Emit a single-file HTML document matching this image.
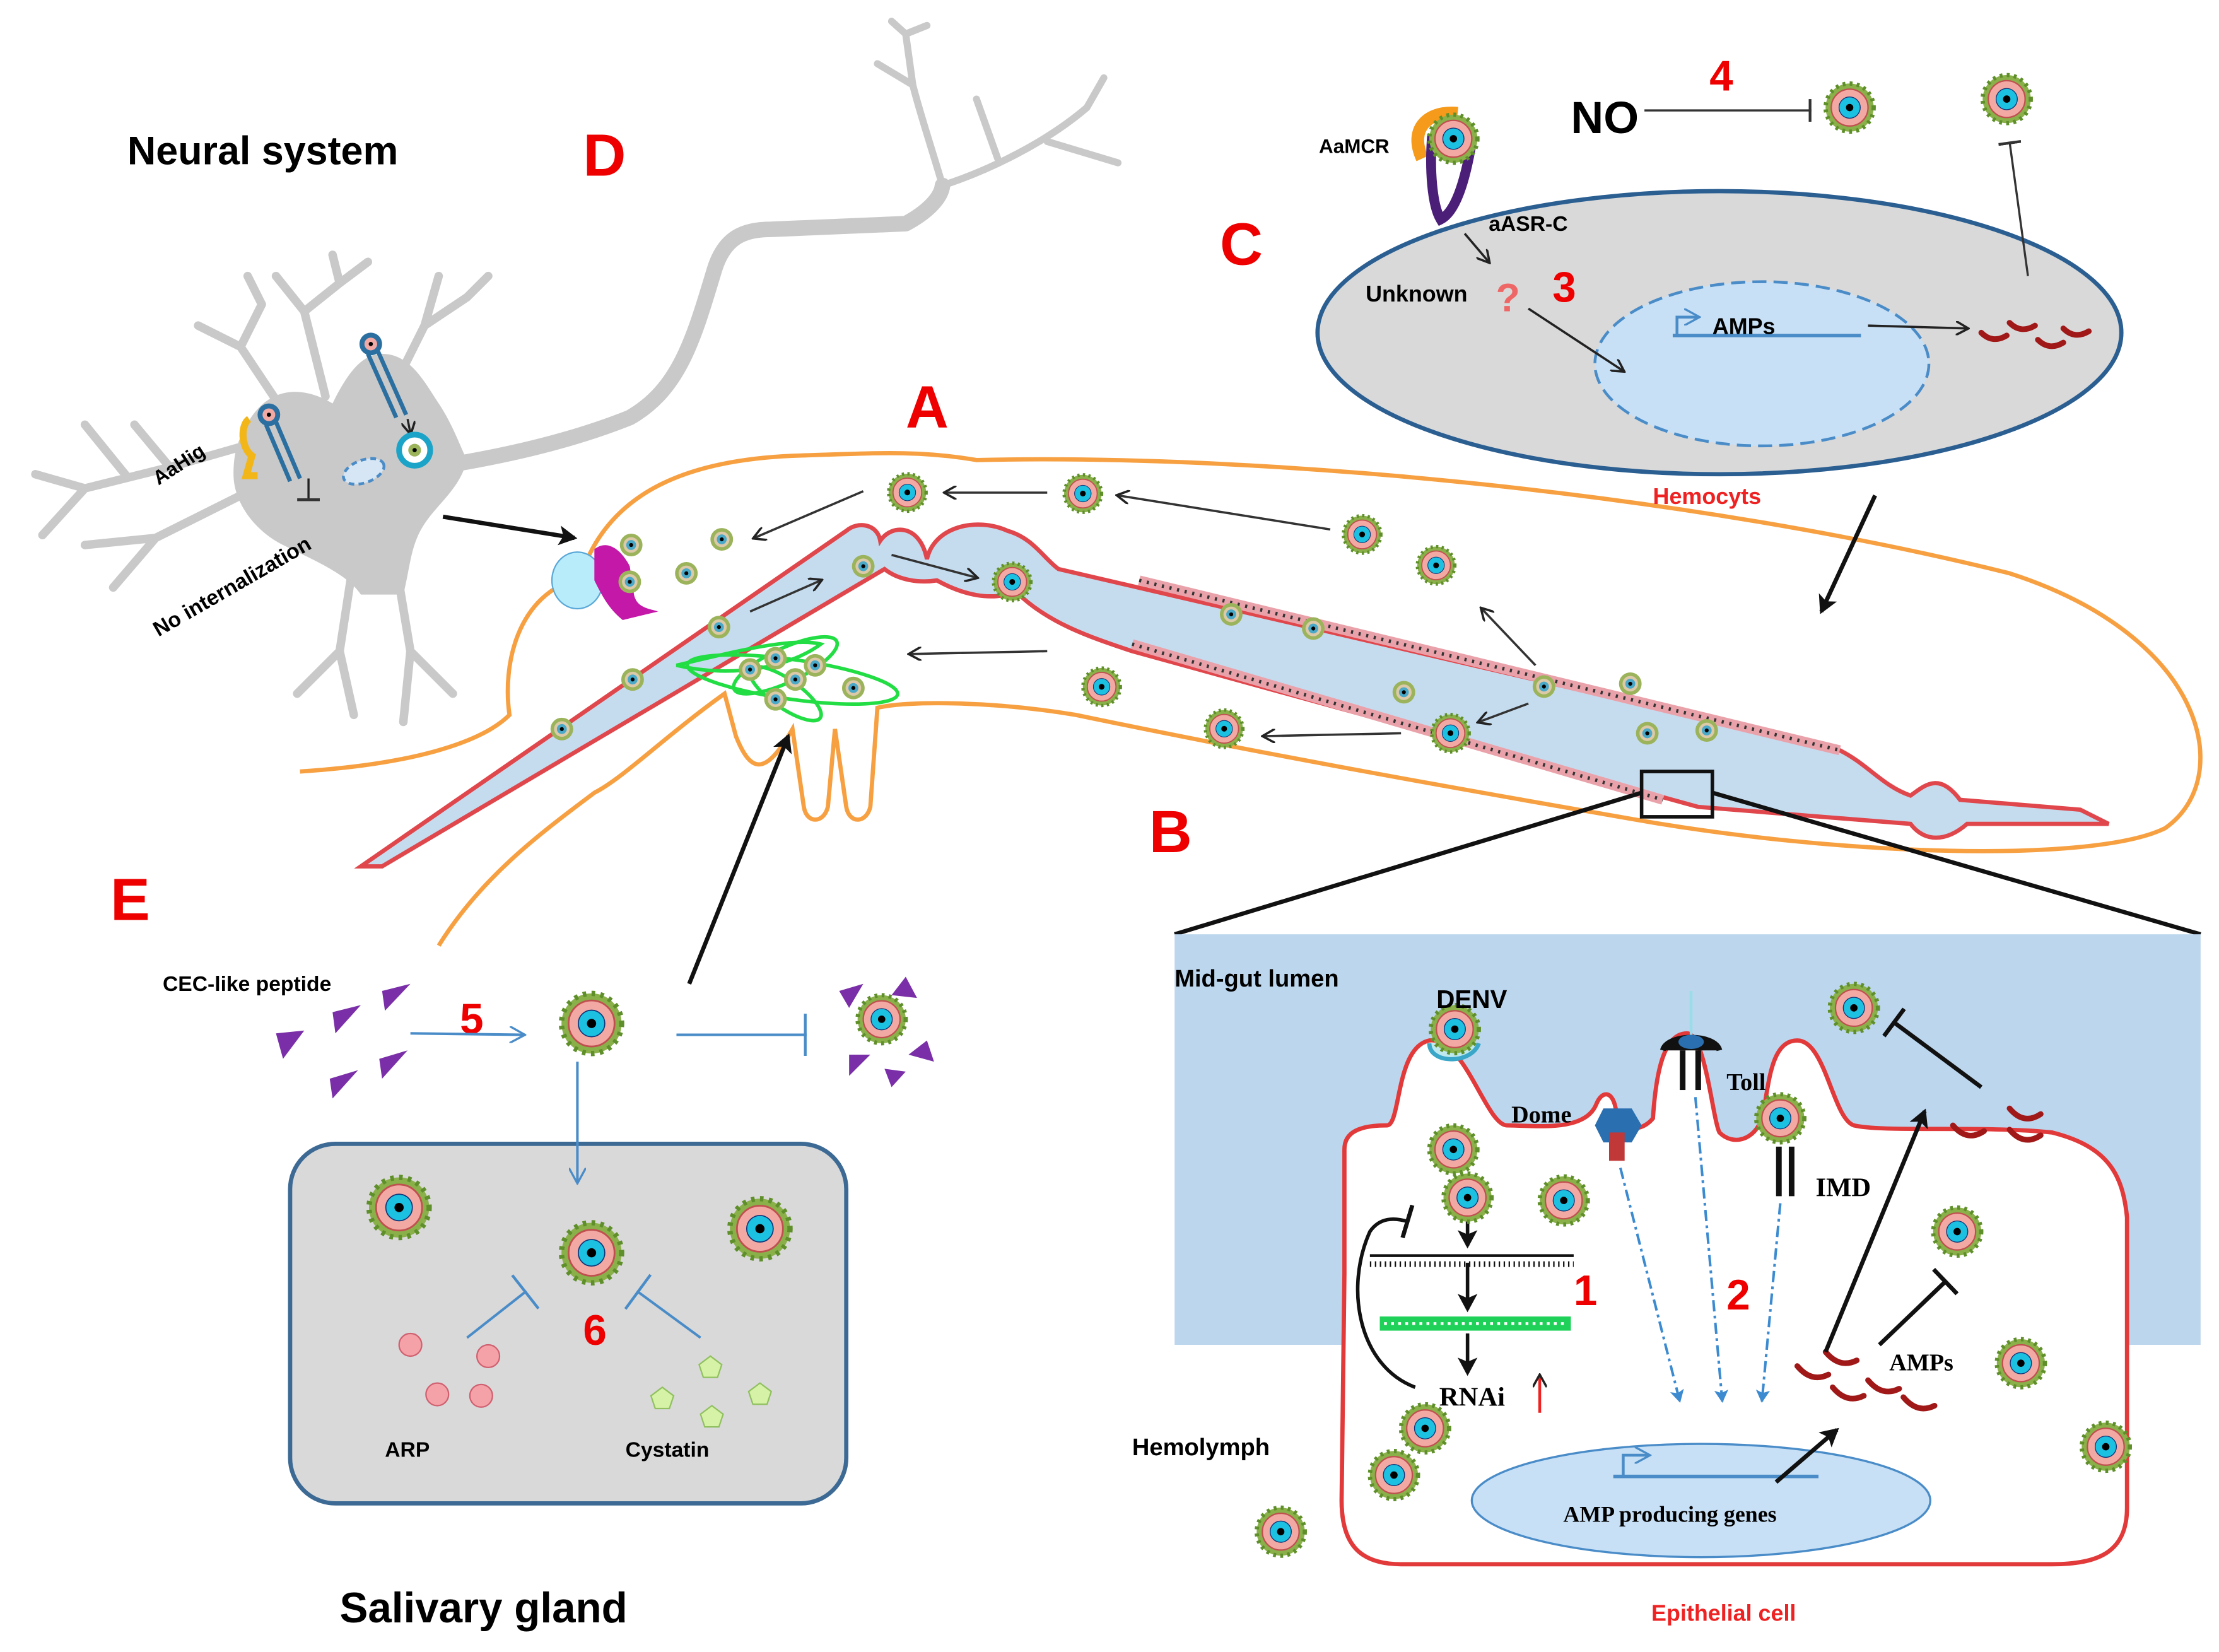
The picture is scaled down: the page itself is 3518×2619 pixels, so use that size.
<!DOCTYPE html>
<html><head><meta charset="utf-8"><style>
html,body{margin:0;padding:0;background:#fff;}
svg{display:block;}
text{font-family:"Liberation Sans",sans-serif;}
</style></head><body>
<svg width="3518" height="2619" viewBox="0 0 1568 1167" preserveAspectRatio="none" xmlns="http://www.w3.org/2000/svg">
<defs>
<g id="v">
<circle r="17" fill="#8ab04a"/>
<circle r="17" fill="none" stroke="#5f8f2a" stroke-width="3" stroke-dasharray="2 3"/>
<circle r="13" fill="#f2a9a4" stroke="#c05050" stroke-width="1"/>
<circle r="7.5" fill="#1cc0e0" stroke="#137" stroke-width="0.6"/>
<circle r="2.6" fill="#000"/>
</g>
<g id="s">
<circle r="8" fill="#9bb35a"/>
<circle r="5.5" fill="#dcc9a8"/>
<circle r="3.5" fill="#4aa9c8"/>
<circle r="1.4" fill="#000"/>
</g>
<marker id="ah" markerWidth="10" markerHeight="10" refX="8" refY="5" orient="auto" markerUnits="userSpaceOnUse"><path d="M0,0 L9,5 L0,10" fill="none" stroke="#222" stroke-width="1.6"/></marker>
<marker id="ahb" markerWidth="14" markerHeight="14" refX="11" refY="7" orient="auto" markerUnits="userSpaceOnUse"><path d="M0,0 L13,7 L0,14 L3,7z" fill="#111"/></marker>
<marker id="ahl" markerWidth="12" markerHeight="12" refX="10" refY="6" orient="auto" markerUnits="userSpaceOnUse"><path d="M0,0 L11,6 L0,12" fill="none" stroke="#4a8cc8" stroke-width="1.5"/></marker>
<marker id="ahd" markerWidth="10" markerHeight="10" refX="8" refY="5" orient="auto" markerUnits="userSpaceOnUse"><path d="M0,0 L9,5 L0,10 L2,5z" fill="#3c8ad0"/></marker>
<marker id="tb" markerWidth="4" markerHeight="24" refX="2" refY="12" orient="auto" markerUnits="userSpaceOnUse"><rect x="0" y="0" width="3" height="24" fill="#111"/></marker>
<marker id="tbl" markerWidth="4" markerHeight="30" refX="2" refY="15" orient="auto" markerUnits="userSpaceOnUse"><rect x="0" y="0" width="2" height="30" fill="#4a8cc8"/></marker>
<marker id="tbs" markerWidth="4" markerHeight="16" refX="2" refY="8" orient="auto" markerUnits="userSpaceOnUse"><rect x="0" y="0" width="2" height="16" fill="#333"/></marker>
</defs>

<!-- Neuron -->
<g fill="none" stroke="#c9c9c9" stroke-linecap="round" stroke-linejoin="round">
<path d="M320,328 C380,318 420,305 445,295 C480,275 490,240 505,190 C512,168 525,162 545,162 L640,158 C655,150 665,140 666,131" stroke-width="11"/>
<path d="M666,131 C660,110 650,80 645,60 L640,24 M645,60 L620,45 M666,131 C700,120 740,100 768,76 M740,100 L790,115 M705,112 L690,70 M768,76 L780,55 M640,24 L630,15 M640,24 L655,18" stroke-width="5"/>
<path d="M190,310 L120,330 L60,345 L25,335 M60,345 L30,378 M120,330 L95,300 M90,337 L60,300 M180,345 L110,380 L80,415 M110,380 L60,385 M200,290 L170,245 L140,230 M170,245 L185,215 L175,195 M230,280 L215,220 L195,195 M215,220 L240,200 L235,180 M240,200 L260,185 M280,270 L300,230 L330,210 M300,230 L310,195 M330,210 L345,195 M250,395 L240,460 L210,490 M240,460 L250,505 M280,400 L290,460 L320,490 M290,460 L285,510" stroke-width="6"/>
</g>
<path d="M172,305 C185,275 210,270 235,285 C245,265 255,250 270,250 C290,250 300,270 310,285 C320,300 325,315 330,325 C325,345 310,355 300,370 C290,385 290,400 285,420 L255,420 C245,405 220,395 200,385 C180,375 165,355 165,335 C165,320 168,312 172,305z" fill="#c9c9c9"/>
<!-- receptors in neuron -->
<path d="M176,296 C170,300 170,316 178,322 L174,336 L182,336" fill="none" stroke="#f2b619" stroke-width="5"/>
<line x1="188" y1="300" x2="205" y2="340" stroke="#2a6fa0" stroke-width="3"/><line x1="195" y1="298" x2="212" y2="338" stroke="#2a6fa0" stroke-width="3"/>
<circle cx="190" cy="293" r="8" fill="#2a6fa0"/><circle cx="190" cy="293" r="4.5" fill="#f2a9a4"/><circle cx="190" cy="293" r="1.5" fill="#000"/>
<line x1="218" y1="338" x2="218" y2="354" stroke="#222" stroke-width="1.5" marker-end="url(#tbs)"/>
<line x1="260" y1="250" x2="280" y2="295" stroke="#2a6fa0" stroke-width="3"/><line x1="267" y1="248" x2="287" y2="293" stroke="#2a6fa0" stroke-width="3"/>
<circle cx="262" cy="243" r="8" fill="#2a6fa0"/><circle cx="262" cy="243" r="4.5" fill="#f2a9a4"/><circle cx="262" cy="243" r="1.5" fill="#000"/>
<line x1="288" y1="296" x2="290" y2="306" stroke="#222" stroke-width="1.5" marker-end="url(#ah)"/>
<circle cx="293" cy="318" r="11" fill="#fff" stroke="#1ba3c8" stroke-width="4"/><circle cx="293" cy="318" r="4.5" fill="#9bb35a"/><circle cx="293" cy="318" r="1.5" fill="#000"/>
<ellipse cx="257" cy="333" rx="15" ry="8" fill="#d7e6f4" stroke="#4a8cc8" stroke-width="2" stroke-dasharray="4 3" transform="rotate(-20 257 333)"/>
<text x="112" y="343" font-size="14" font-weight="bold" transform="rotate(-33 112 343)">AaHig</text>
<text x="112" y="450" font-size="15" font-weight="bold" transform="rotate(-30 112 450)">No internalization</text>
<text x="90" y="116" font-size="28" font-weight="bold">Neural system</text>
<text x="412" y="124" font-size="42" font-weight="bold" fill="#e00">D</text>

<!-- Mosquito outline -->
<path d="M212,545 C290,540 340,525 360,505 C355,470 365,420 410,408 C430,345 490,325 560,322 C620,320 650,318 690,325 C900,320 1200,350 1420,405 C1560,450 1580,550 1530,585 C1480,610 1300,605 1150,578 C1000,552 880,530 760,505 C700,495 640,495 620,500 L615,570 C612,582 600,582 598,570 L590,515 L585,570 C582,582 570,582 568,570 L560,515 C540,550 530,545 520,520 L512,490 C470,520 440,550 420,560 C380,590 340,620 310,668" fill="none" stroke="#f7a042" stroke-width="3"/>
<text x="640" y="302" font-size="42" font-weight="bold" fill="#e00">A</text>
<text x="812" y="602" font-size="42" font-weight="bold" fill="#e00">B</text>

<!-- Gut -->
<path d="M255,612 L598,375 C606,368 620,370 622,382 C630,370 650,370 655,395 C660,372 690,365 712,375 C730,380 738,395 748,402 L1300,530 C1320,540 1330,555 1350,562 C1360,555 1370,545 1385,565 L1470,572 L1490,582 L1390,582 C1375,595 1360,595 1350,582 L1200,570 L800,460 C770,450 740,440 718,418 C700,425 680,420 662,410 C650,412 635,410 625,402 L270,612 z" fill="#c5dcef" stroke="#e0474c" stroke-width="3"/>
<path d="M805,410 L1300,530 M800,455 L1175,565" stroke="#eaa2aa" stroke-width="7" fill="none"/>
<path d="M805,410 L1300,530 M800,455 L1175,565" stroke="#333" stroke-width="2.5" fill="none" stroke-dasharray="1.5 4"/>

<!-- Salivary gland green -->
<g fill="none" stroke="#22dd44" stroke-width="2.5">
<path d="M478,470 C520,480 560,470 580,455 C560,450 520,460 478,470z"/>
<ellipse cx="560" cy="480" rx="75" ry="14" transform="rotate(8 560 480)"/>
<ellipse cx="555" cy="470" rx="40" ry="12" transform="rotate(-25 555 470)"/>
<ellipse cx="555" cy="490" rx="30" ry="10" transform="rotate(35 555 490)"/>
</g>
<!-- Head receptor -->
<ellipse cx="408" cy="410" rx="18" ry="20" fill="#b9ecfa" stroke="#5aa8d8" stroke-width="1"/>
<path d="M420,388 C430,380 440,390 445,400 L448,420 C450,430 460,430 465,432 L440,438 C430,430 425,420 420,410 z" fill="#c418a8"/>

<!-- small viruses -->
<g>
<use href="#s" x="446" y="385"/><use href="#s" x="445" y="411"/><use href="#s" x="485" y="405"/><use href="#s" x="510" y="381"/>
<use href="#s" x="610" y="400"/><use href="#s" x="508" y="443"/><use href="#s" x="447" y="480"/><use href="#s" x="397" y="515"/>
<use href="#s" x="548" y="465"/><use href="#s" x="562" y="480"/><use href="#s" x="576" y="470"/><use href="#s" x="603" y="486"/><use href="#s" x="530" y="473"/><use href="#s" x="548" y="494"/>
<use href="#s" x="870" y="434"/><use href="#s" x="928" y="444"/><use href="#s" x="992" y="489"/><use href="#s" x="1091" y="485"/><use href="#s" x="1152" y="483"/><use href="#s" x="1164" y="518"/><use href="#s" x="1206" y="516"/>
</g>
<g transform="scale(0.78)">
<use href="#v" x="822" y="446"/><use href="#v" x="981" y="447"/><use href="#v" x="1234" y="484"/><use href="#v" x="1301" y="512"/><use href="#v" x="917" y="527"/><use href="#v" x="998" y="622"/><use href="#v" x="1109" y="660"/><use href="#v" x="1314" y="664"/>
</g>
<!-- arrows inside mosquito -->
<g stroke="#333" stroke-width="1.6" fill="none" marker-end="url(#ah)">
<line x1="610" y1="347" x2="533" y2="380"/>
<line x1="740" y1="348" x2="668" y2="348"/>
<line x1="940" y1="374" x2="790" y2="350"/>
<line x1="740" y1="460" x2="643" y2="462"/>
<line x1="990" y1="518" x2="893" y2="520"/>
<line x1="1080" y1="497" x2="1045" y2="510"/>
<line x1="1085" y1="470" x2="1047" y2="430"/>
<line x1="530" y1="432" x2="580" y2="410"/>
<line x1="630" y1="392" x2="690" y2="408"/>
</g>
<line x1="313" y1="365" x2="406" y2="380" stroke="#111" stroke-width="3" marker-end="url(#ahb)"/>
<line x1="487" y1="695" x2="557" y2="520" stroke="#111" stroke-width="3" marker-end="url(#ahb)"/>
<line x1="1325" y1="350" x2="1287" y2="432" stroke="#111" stroke-width="3" marker-end="url(#ahb)"/>

<!-- Hemocyte C -->
<ellipse cx="1215" cy="235" rx="284" ry="100" fill="#d9d9d9" stroke="#2b5f92" stroke-width="3"/>
<ellipse cx="1245" cy="257" rx="118" ry="58" fill="#c7e0f6" stroke="#4a8cc8" stroke-width="2" stroke-dasharray="10 5"/>
<path d="M1185,237 L1185,224 L1200,224" fill="none" stroke="#4a8cc8" stroke-width="2" marker-end="url(#ahl)"/>
<line x1="1182" y1="237" x2="1315" y2="237" stroke="#4a8cc8" stroke-width="2.5"/>
<text x="1210" y="236" font-size="16" font-weight="bold">AMPs</text>
<line x1="1320" y1="230" x2="1390" y2="232" stroke="#222" stroke-width="1.6" marker-end="url(#ah)"/>
<line x1="1080" y1="218" x2="1147" y2="262" stroke="#222" stroke-width="1.6" marker-end="url(#ah)"/>
<line x1="1035" y1="165" x2="1052" y2="185" stroke="#222" stroke-width="1.6" marker-end="url(#ah)"/>
<g fill="none" stroke="#a01818" stroke-width="4" stroke-linecap="round">
<path d="M1400,235 q8,8 18,2"/><path d="M1420,228 q8,8 18,2"/><path d="M1440,240 q8,8 18,2"/><path d="M1458,232 q8,8 18,2"/>
</g>
<line x1="1433" y1="195" x2="1420" y2="100" stroke="#333" stroke-width="1.5" marker-end="url(#tbs)"/>
<use href="#v" x="1418" y="70"/>
<use href="#v" x="1307" y="76"/>
<line x1="1162" y1="78" x2="1280" y2="78" stroke="#333" stroke-width="1.5" marker-end="url(#tbs)"/>
<text x="1110" y="94" font-size="32" font-weight="bold">NO</text>
<text x="1208" y="64" font-size="30" font-weight="bold" fill="#e00">4</text>
<path d="M1005,112 C995,90 1010,78 1030,80" fill="none" stroke="#f59a1a" stroke-width="9"/>
<path d="M1012,95 C1010,120 1012,145 1018,155 C1028,150 1035,130 1040,100" fill="none" stroke="#4b1f78" stroke-width="7"/>
<use href="#v" x="1027" y="98"/>
<text x="932" y="108" font-size="14" font-weight="bold">AaMCR</text>
<text x="1052" y="163" font-size="15" font-weight="bold">aASR-C</text>
<text x="965" y="213" font-size="16" font-weight="bold">Unknown</text>
<text x="1057" y="220" font-size="28" font-weight="bold" fill="#e66">?</text>
<text x="1097" y="213" font-size="30" font-weight="bold" fill="#e00">3</text>
<text x="862" y="187" font-size="42" font-weight="bold" fill="#e00">C</text>
<text x="1168" y="356" font-size="16" font-weight="bold" fill="#e22">Hemocyts</text>

<!-- Zoom box and lumen -->
<rect x="1160" y="545" width="50" height="32" fill="none" stroke="#111" stroke-width="2.5"/>
<line x1="1160" y1="560" x2="830" y2="660" stroke="#111" stroke-width="3"/>
<line x1="1210" y1="560" x2="1555" y2="660" stroke="#111" stroke-width="3"/>
<rect x="830" y="660" width="725" height="290" fill="#bcd6ee"/>
<text x="830" y="697" font-size="17" font-weight="bold">Mid-gut lumen</text>
<text x="800" y="1028" font-size="17" font-weight="bold">Hemolymph</text>

<!-- Epithelial cell -->
<path d="M950,900 L950,812 C950,800 960,795 980,795 C990,795 986,740 1010,735 C1035,732 1050,795 1065,795 C1085,795 1120,800 1128,780 C1132,770 1140,770 1142,785 C1145,800 1160,800 1168,790 C1170,760 1175,730 1192,730 C1205,730 1210,790 1215,800 C1225,810 1240,805 1245,790 C1250,770 1250,735 1270,735 C1290,735 1295,790 1310,795 C1330,800 1400,795 1450,800 C1490,810 1500,830 1503,860 L1503,1065 C1503,1095 1485,1105 1450,1105 L990,1105 C960,1105 948,1090 948,1060 z" fill="#fff" stroke="#e23a3a" stroke-width="3"/>
<ellipse cx="1202" cy="1060" rx="162" ry="40" fill="#c7e0f6" stroke="#4a8cc8" stroke-width="1.5"/>
<path d="M1147,1043 L1147,1028 L1165,1028" fill="none" stroke="#4a8cc8" stroke-width="2" marker-end="url(#ahl)"/>
<line x1="1140" y1="1043" x2="1285" y2="1043" stroke="#4a8cc8" stroke-width="2.5"/>
<text x="1180" y="1075" font-size="16" font-weight="bold" text-anchor="middle" style="font-family:'Liberation Serif',serif">AMP producing genes</text>
<text x="1218" y="1145" font-size="16" font-weight="bold" fill="#e22" text-anchor="middle">Epithelial cell</text>
<!-- DENV -->
<path d="M1010,737 C1010,752 1040,752 1045,737" fill="#bde8f0" stroke="#3aa6c8" stroke-width="3"/>
<use href="#v" x="1028" y="727"/>
<text x="1015" y="712" font-size="18" font-weight="bold">DENV</text>
<!-- Dome -->
<path d="M1127,795 L1133,783 L1153,783 L1160,795 L1153,807 L1133,807z" fill="#2a6fb0"/>
<rect x="1137" y="800" width="11" height="20" fill="#c03838"/>
<text x="1068" y="793" font-size="17" font-weight="bold" style="font-family:'Liberation Serif',serif">Dome</text>
<!-- Toll -->
<line x1="1195" y1="700" x2="1195" y2="740" stroke="#9bdce8" stroke-width="2"/>
<path d="M1175,742 C1178,730 1212,730 1215,742" fill="#111" stroke="#111" stroke-width="4"/>
<ellipse cx="1195" cy="736" rx="9" ry="5" fill="#2a6fb0"/>
<rect x="1187" y="742" width="4" height="28" fill="#111"/><rect x="1198" y="742" width="4" height="28" fill="#111"/>
<text x="1220" y="770" font-size="17" font-weight="bold" style="font-family:'Liberation Serif',serif">Toll</text>
<!-- IMD -->
<rect x="1255" y="810" width="4" height="35" fill="#111"/><rect x="1264" y="810" width="4" height="35" fill="#111"/>
<text x="1283" y="845" font-size="19" font-weight="bold" style="font-family:'Liberation Serif',serif">IMD</text>
<!-- dashed arrows -->
<g stroke="#3c8ad0" stroke-width="1.8" fill="none" stroke-dasharray="8 3 2 3" marker-end="url(#ahd)">
<line x1="1145" y1="825" x2="1187" y2="990"/>
<line x1="1198" y1="775" x2="1217" y2="990"/>
<line x1="1258" y1="850" x2="1245" y2="990"/>
</g>
<!-- RNAi pathway -->
<g stroke="#111" stroke-width="2.5" fill="none" marker-end="url(#ahb)">
<line x1="1037" y1="852" x2="1037" y2="880"/>
<line x1="1037" y1="892" x2="1037" y2="925"/>
<line x1="1037" y1="942" x2="1037" y2="970"/>
</g>
<line x1="968" y1="887" x2="1112" y2="887" stroke="#111" stroke-width="2"/>
<line x1="968" y1="893" x2="1112" y2="893" stroke="#111" stroke-width="4" stroke-dasharray="1 2.5"/>
<rect x="975" y="930" width="135" height="10" fill="#1fd158"/>
<line x1="978" y1="935" x2="1108" y2="935" stroke="#fff" stroke-width="2" stroke-dasharray="2 3"/>
<path d="M1000,980 C960,965 950,910 968,870 C975,860 985,860 995,863" fill="none" stroke="#111" stroke-width="2.5" marker-end="url(#tb)"/>
<text x="1017" y="993" font-size="19" font-weight="bold" style="font-family:'Liberation Serif',serif">RNAi</text>
<line x1="1088" y1="998" x2="1088" y2="972" stroke="#e22" stroke-width="2" marker-end="url(#ah)"/>
<text x="1112" y="922" font-size="30" font-weight="bold" fill="#e00">1</text>
<text x="1220" y="925" font-size="30" font-weight="bold" fill="#e00">2</text>
<!-- AMPs -->
<g fill="none" stroke="#a01818" stroke-width="4" stroke-linecap="round">
<path d="M1270,965 q10,12 22,6"/><path d="M1290,955 q10,12 22,6"/><path d="M1295,980 q10,12 22,6"/><path d="M1320,975 q10,12 22,6"/><path d="M1345,987 q10,12 22,6"/>
<path d="M1380,795 q10,12 22,4"/><path d="M1420,783 q10,12 22,4"/><path d="M1420,798 q10,12 22,4"/>
</g>
<text x="1335" y="968" font-size="17" font-weight="bold" style="font-family:'Liberation Serif',serif">AMPs</text>
<line x1="1255" y1="1047" x2="1298" y2="1010" stroke="#111" stroke-width="3" marker-end="url(#ahb)"/>
<line x1="1290" y1="955" x2="1360" y2="785" stroke="#111" stroke-width="3" marker-end="url(#ahb)"/>
<line x1="1328" y1="950" x2="1375" y2="905" stroke="#111" stroke-width="3" marker-end="url(#tb)"/>
<line x1="1400" y1="768" x2="1338" y2="722" stroke="#111" stroke-width="3" marker-end="url(#tb)"/>
<use href="#v" x="1310" y="712"/><use href="#v" x="1027" y="812"/><use href="#v" x="1037" y="846"/><use href="#v" x="1105" y="848"/>
<use href="#v" x="1383" y="870"/><use href="#v" x="1428" y="963"/><use href="#v" x="1488" y="1022"/><use href="#v" x="1007" y="1009"/><use href="#v" x="985" y="1042"/><use href="#v" x="905" y="1082"/>
<use href="#v" x="1258" y="790"/>

<!-- Salivary gland box E -->
<text x="78" y="650" font-size="42" font-weight="bold" fill="#e00">E</text>
<text x="115" y="700" font-size="15" font-weight="bold">CEC-like peptide</text>
<g fill="#7a2fa8">
<path d="M270,700 L290,695 L272,714z"/><path d="M235,715 L255,710 L237,730z"/><path d="M195,730 L215,728 L200,748z"/><path d="M268,748 L288,742 L270,762z"/><path d="M233,762 L253,756 L235,776z"/>
</g>
<text x="325" y="730" font-size="30" font-weight="bold" fill="#e00">5</text>
<line x1="290" y1="730" x2="370" y2="731" stroke="#4a8cc8" stroke-width="1.8" marker-end="url(#ahl)"/>
<g transform="translate(418,723) scale(1.25)"><use href="#v"/></g>
<line x1="478" y1="731" x2="570" y2="731" stroke="#4a8cc8" stroke-width="1.8" marker-end="url(#tbl)"/>
<use href="#v" x="623" y="720"/>
<g fill="#7a2fa8"><path d="M593,700 L610,695 L600,712z"/><path d="M640,690 L648,705 L630,703z"/><path d="M655,735 L660,750 L642,745z"/><path d="M600,745 L615,745 L600,760z"/><path d="M625,755 L640,757 L630,768z"/></g>
<rect x="205" y="808" width="393" height="254" rx="32" fill="#d9d9d9" stroke="#3d6a94" stroke-width="3"/>
<line x1="408" y1="750" x2="408" y2="835" stroke="#4a8cc8" stroke-width="1.8" marker-end="url(#ahl)"/>
<g transform="translate(282,853) scale(1.25)"><use href="#v"/></g>
<g transform="translate(418,885) scale(1.25)"><use href="#v"/></g>
<g transform="translate(537,868) scale(1.25)"><use href="#v"/></g>
<line x1="330" y1="945" x2="372" y2="912" stroke="#4a8cc8" stroke-width="1.8" marker-end="url(#tbl)"/>
<line x1="495" y1="945" x2="450" y2="912" stroke="#4a8cc8" stroke-width="1.8" marker-end="url(#tbl)"/>
<text x="412" y="950" font-size="30" font-weight="bold" fill="#e00">6</text>
<g fill="#f4a2a8" stroke="#d06070" stroke-width="1"><circle cx="290" cy="950" r="8"/><circle cx="345" cy="958" r="8"/><circle cx="309" cy="985" r="8"/><circle cx="340" cy="986" r="8"/></g>
<g fill="#d6f2a6" stroke="#90c060" stroke-width="1"><path d="M502,958 l8,6 -3,9 -10,0 -3,-9z"/><path d="M468,980 l8,6 -3,9 -10,0 -3,-9z"/><path d="M537,977 l8,6 -3,9 -10,0 -3,-9z"/><path d="M503,993 l8,6 -3,9 -10,0 -3,-9z"/></g>
<text x="272" y="1029" font-size="15" font-weight="bold">ARP</text>
<text x="442" y="1029" font-size="15" font-weight="bold">Cystatin</text>
<text x="240" y="1146" font-size="30" font-weight="bold">Salivary gland</text>
</svg>
</body></html>
